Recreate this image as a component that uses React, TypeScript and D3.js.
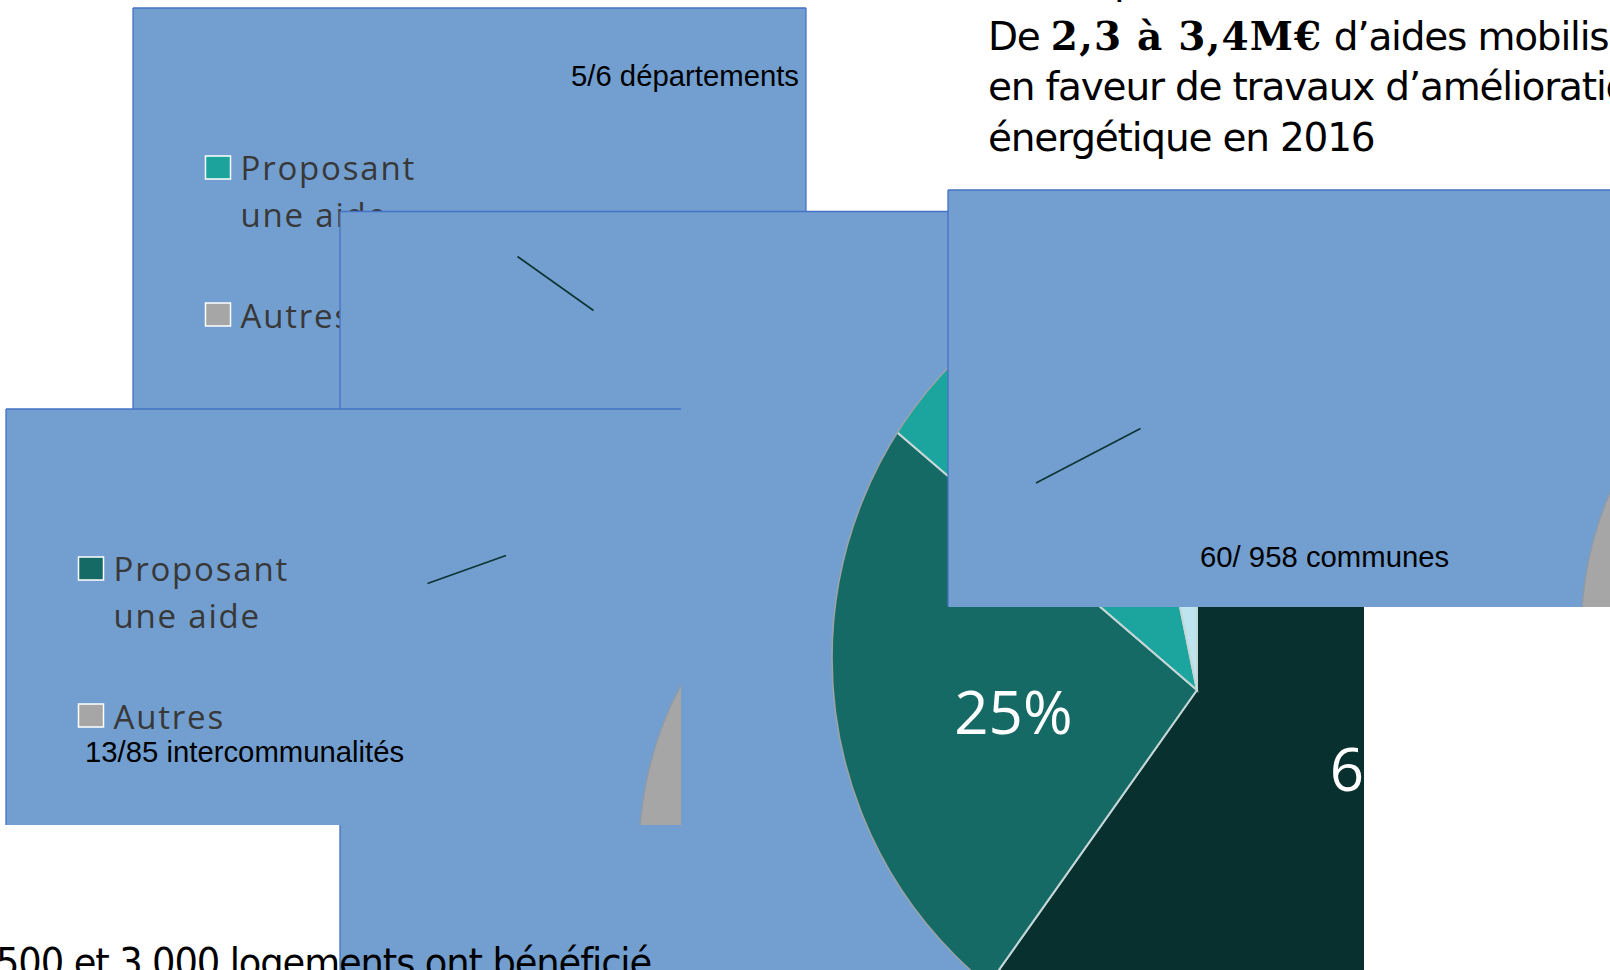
import React from "react";
import * as d3 from "d3";

const W = 1610;
const H = 970;

// ---- main pie (chart B) ----
const mainSliceNames = ["Tranche 1", "Tranche 2", "Tranche 3", "Tranche 4"];
const mainSliceValues = [59.8, 26.5, 10.5, 3.2];
const mainSliceLabels = ["60%", "25%", "", ""];
const mainSliceColors = ["#08302F", "#156A66", "#1BA59E", "#BEE4F0"];

// ---- small pies ----
const legendCategories = ["Proposant", "une aide", "Autres"];
const departementsValues = [5, 1];
const intercoValues = [13, 72];
const communesValues = [60, 898];
const departementsLabel = "5/6 départements";
const intercoLabel = "13/85 intercommunalités";
const communesLabel = "60/ 958 communes";

// ---- texts ----
const headlineTop = "p";
const headlineStart = "De ";
const headlineBold = "2,3 à 3,4M€";
const headlineEnd = " d’aides mobilisées";
const headlineLine2 = "en faveur de travaux d’amélioration";
const headlineLine3 = "énergétique en 2016";
const bottomLine = "500 et 3 000 logements ont bénéficié";

const BOX_FILL = "#729FCF";
const BOX_LINE = "#4472C4";
const GRAY = "#A6A6A6";
const LEGEND_TEXT = "#383838";
const LEADER = "#0C3433";

type Box = { x: number; y: number; w: number; h: number };

const boxA: Box = { x: 133, y: 8, w: 673, h: 401 };
const boxB: Box = { x: 340, y: 211.5, w: 1024, h: 800 };
const boxC: Box = { x: 6, y: 409, w: 675, h: 416 };
const boxD: Box = { x: 948, y: 190, w: 720, h: 417 };

const SMALL_R = 357;
const SMALL_CX = 990;
const SMALL_CY = 444;

function BoxFrame({ box, right }: { box: Box; right?: boolean }) {
  return (
    <g>
      <rect x={box.x} y={box.y} width={box.w} height={box.h} fill={BOX_FILL} />
      <line x1={box.x} y1={box.y} x2={box.x + box.w} y2={box.y} stroke={BOX_LINE} strokeWidth={1.3} />
      <line x1={box.x} y1={box.y} x2={box.x} y2={box.y + box.h} stroke={BOX_LINE} strokeWidth={1.3} />
      {right && (
        <line x1={box.x + box.w} y1={box.y} x2={box.x + box.w} y2={box.y + box.h} stroke={BOX_LINE} strokeWidth={1.3} />
      )}
    </g>
  );
}

function SmallChart({
  id,
  box,
  values,
  colors,
  label,
  labelX,
  labelY,
  leader,
  legend,
  right,
}: {
  id: string;
  box: Box;
  values: number[];
  colors: string[];
  label: string;
  labelX: number;
  labelY: number;
  leader?: [number, number, number, number];
  legend?: boolean;
  right?: boolean;
}) {
  const pie = d3.pie<number>().sort(null).value((d) => d)(values);
  const arc = d3.arc<d3.PieArcDatum<number>>().innerRadius(0).outerRadius(SMALL_R);
  return (
    <g>
      <defs>
        <clipPath id={id}>
          <rect x={box.x} y={box.y} width={box.w} height={box.h} />
        </clipPath>
      </defs>
      <BoxFrame box={box} right={right} />
      <g clipPath={`url(#${id})`}>
        <g transform={`translate(${box.x + SMALL_CX},${box.y + SMALL_CY})`}>
          {pie.map((p, i) => (
            <path key={i} d={arc(p) || ""} fill={colors[i]} stroke="#8E9AAA" strokeWidth={1.5} />
          ))}
        </g>
        {legend && (
          <g transform={`translate(${box.x + 72.5},${box.y + 148})`}>
            <rect x={0} y={0} width={25} height={23} fill={colors[0]} stroke="#ffffff" strokeWidth={1.5} />
            <text x={35} y={24} fontFamily="Open Sans" fontSize={33} letterSpacing={1.8} fill={LEGEND_TEXT}>
              {legendCategories[0]}
            </text>
            <text x={35} y={71} fontFamily="Open Sans" fontSize={33} letterSpacing={1.8} fill={LEGEND_TEXT}>
              {legendCategories[1]}
            </text>
            <rect x={0} y={147} width={25} height={23} fill={colors[1]} stroke="#ffffff" strokeWidth={1.5} />
            <text x={35} y={172} fontFamily="Open Sans" fontSize={33} letterSpacing={1.8} fill={LEGEND_TEXT}>
              {legendCategories[2]}
            </text>
          </g>
        )}
        {leader && (
          <line x1={leader[0]} y1={leader[1]} x2={leader[2]} y2={leader[3]} stroke={LEADER} strokeWidth={1.6} />
        )}
        <text x={labelX} y={labelY} fontFamily="Liberation Sans, Arial" fontSize={29.3} fill="#000">
          {label}
        </text>
      </g>
    </g>
  );
}

function MainChart() {
  const vx = 1197;
  const vy = 690;
  const pie = d3.pie<number>().sort(null).value((d) => d)(mainSliceValues);
  const arc = d3.arc<d3.PieArcDatum<number>>().innerRadius(0).outerRadius(700);
  const labelArc = d3.arc<d3.PieArcDatum<number>>().innerRadius(0).outerRadius(400);
  return (
    <g>
      <defs>
        <clipPath id="clipB">
          <rect x={boxB.x} y={boxB.y} width={boxB.w} height={boxB.h} />
        </clipPath>
        <clipPath id="clipPieB">
          <circle cx={1253} cy={658} r={421} />
        </clipPath>
      </defs>
      <BoxFrame box={boxB} />
      <g clipPath="url(#clipB)">
        <g clipPath="url(#clipPieB)">
          <g transform={`translate(${vx},${vy})`}>
            {pie.map((p, i) => (
              <path key={mainSliceNames[i]} d={arc(p) || ""} fill={mainSliceColors[i]} stroke="#C5D6D6" strokeWidth={2} />
            ))}
          </g>
        </g>
        <circle cx={1253} cy={658} r={421} fill="none" stroke="#9AA3A6" strokeWidth={1.6} />
        <g transform={`translate(${vx},${vy})`}>
          {pie.map((p, i) => {
            if (!mainSliceLabels[i]) return null;
            const [cx, cy] = labelArc.centroid(p);
            const k = i === 0 ? 1.07 : 0.93;
            const dx = i === 0 ? -12 : 1;
            const dy = i === 0 ? 36 : 21;
            return (
              <text
                key={i}
                x={cx * k + dx}
                y={cy * k + dy}
                textAnchor="middle"
                fontFamily="Open Sans"
                fontSize={60}
                fill="#ffffff"
              >
                {mainSliceLabels[i]}
              </text>
            );
          })}
        </g>
        <line x1={517.5} y1={256.5} x2={593.5} y2={310.5} stroke={LEADER} strokeWidth={1.6} />
      </g>
    </g>
  );
}

export default function App() {
  return (
    <svg
      width={W}
      height={H}
      viewBox={`0 0 ${W} ${H}`}
      style={{ position: "absolute", left: 0, top: 0, background: "#ffffff" }}
    >
      <rect x={0} y={0} width={W} height={H} fill="#ffffff" />
      <SmallChart
        id="clipA"
        box={boxA}
        values={departementsValues}
        colors={["#1BA39C", GRAY]}
        label={departementsLabel}
        labelX={571}
        labelY={86}
        legend
        right
      />
      <MainChart />
      <SmallChart
        id="clipC"
        box={boxC}
        values={intercoValues}
        colors={["#156A66", GRAY]}
        label={intercoLabel}
        labelX={85}
        labelY={762}
        leader={[427.5, 583.5, 506, 555.5]}
        legend
      />
      <SmallChart
        id="clipD"
        box={boxD}
        values={communesValues}
        colors={["#08302F", GRAY]}
        label={communesLabel}
        labelX={1200}
        labelY={567}
        leader={[1036, 483, 1140.5, 428.5]}
      />
      <g fontFamily="DejaVu Sans" fontSize={39} letterSpacing={-1.2} fill="#000">
        <text x={1114} y={-6}>{headlineTop}</text>
        <text x={988} y={50}>
          {headlineStart}
          <tspan fontFamily="DejaVu Serif" fontWeight={900} letterSpacing={1.2}>{headlineBold}</tspan>
          <tspan letterSpacing={-1.2}>{headlineEnd}</tspan>
        </text>
        <text x={988} y={100}>{headlineLine2}</text>
        <text x={988} y={151}>{headlineLine3}</text>
        <text x={-4} y={976} textLength={655} lengthAdjust="spacingAndGlyphs">{bottomLine}</text>
      </g>
    </svg>
  );
}
